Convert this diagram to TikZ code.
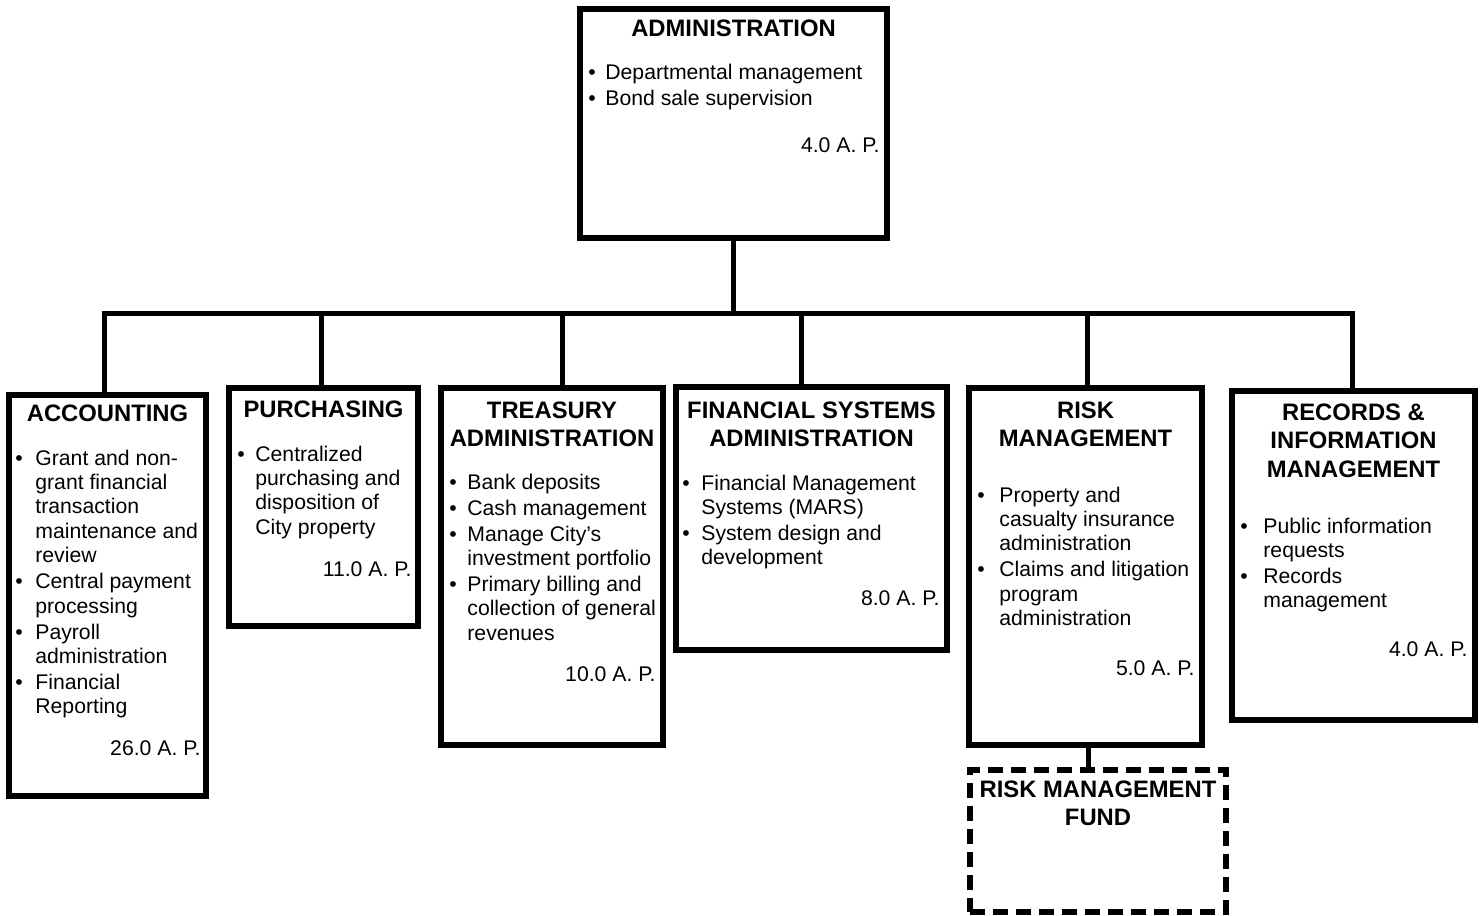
\documentclass[tikz,border=0pt]{standalone}
\usepackage{fontspec}
\setmainfont{Liberation Sans}
\newlength\bind
\newcommand\itm[1]{\ifvmode\else\par\vspace{0.8pt}\fi\noindent\llap{\makebox[\bind][l]{\textbullet}}#1}
\newcommand\blist[3]{\parbox[t]{#2}{\fontsize{10.6}{12.2}\selectfont\raggedright\setlength\bind{#1}\setlength\leftskip{#1}\setlength\parskip{0pt}#3}}
\newcommand\ttl[2]{\parbox[t]{#1}{\centering\fontsize{11.9}{14.3}\selectfont\bfseries #2}}
\tikzset{
  box/.style={draw, line width=2.9pt, rectangle, inner sep=0pt},
  dbox/.style={box, dash pattern=on 7.5pt off 4pt},
  conn/.style={line width=2.5pt, line join=miter},
  txt/.style={inner sep=0pt, anchor=base west},
  ttlnode/.style={inner sep=0pt, anchor=base},
  ap/.style={inner sep=0pt, anchor=base east, font=\fontsize{10.6}{12.2}\selectfont}
}
\begin{document}
\begin{tikzpicture}[x=0.5pt,y=-0.5pt]
\useasboundingbox (0,0) rectangle (1482,915);
% boxes
\node[box, minimum width=153.5pt, minimum height=114.5pt] (admin) at (733.5,123.5) {};
\node[box, minimum width=98.5pt, minimum height=200.5pt] (acc) at (107.5,595.5) {};
\node[box, minimum width=94.5pt, minimum height=119pt] (pur) at (323.5,507) {};
\node[box, minimum width=111pt, minimum height=178.5pt] (tre) at (552,566.5) {};
\node[box, minimum width=135.5pt, minimum height=131.5pt] (fin) at (811.5,518.5) {};
\node[box, minimum width=116.5pt, minimum height=178.5pt] (risk) at (1085.5,566.5) {};
\node[box, minimum width=121.5pt, minimum height=164.5pt] (rec) at (1353.5,555.5) {};
\node[dbox, minimum width=128pt, minimum height=71pt] (fund) at (1098,841) {};
% connectors
\coordinate (bus) at (734,313);
\coordinate (d1) at (104,313);
\coordinate (d2) at (321,313);
\coordinate (d3) at (562,313);
\coordinate (d4) at (801,313);
\coordinate (d5) at (1087,313);
\coordinate (d6) at (1352,313);
\coordinate (rfx) at (1088,0);
\draw[conn] (admin.south) -- (admin.south |- bus);
\draw[conn] (d1 |- acc.north) -- (d1) -- (d6) -- (d6 |- rec.north);
\draw[conn] (d2) -- (d2 |- pur.north);
\draw[conn] (d3) -- (d3 |- tre.north);
\draw[conn] (d4) -- (d4 |- fin.north);
\draw[conn] (d5) -- (d5 |- risk.north);
\draw[conn] (risk.south -| rfx) -- (fund.north -| rfx);
% administration
\node[ttlnode] (adminT) at (733.5,37) {\ttl{150pt}{ADMINISTRATION}};
\node[txt] (adminL) at (588,80) {\blist{8.5pt}{145pt}{\itm{Departmental management}\itm{Bond sale supervision}}};
\node[ap] (adminA) at (880,152) {4.0 A. P.};
% accounting
\node[ttlnode] (accT) at (107.5,421) {\ttl{95pt}{ACCOUNTING}};
\node[txt] (accL) at (15,465) {\blist{10pt}{95pt}{\itm{Grant and non-\\grant financial\\transaction\\maintenance and\\review}\itm{Central payment\\processing}\itm{Payroll\\administration}\itm{Financial\\Reporting}}};
\node[ap] (accA) at (201,755) {26.0 A. P.};
% purchasing
\node[ttlnode] (purT) at (323.5,417) {\ttl{92pt}{PURCHASING}};
\node[txt] (purL) at (237,461) {\blist{9pt}{92pt}{\itm{Centralized\\purchasing and\\disposition of\\City property}}};
\node[ap] (purA) at (412,576) {11.0 A. P.};
% treasury
\node[ttlnode] (treT) at (552,418) {\ttl{110pt}{TREASURY\\ADMINISTRATION}};
\node[txt] (treL) at (449,489) {\blist{9pt}{110pt}{\itm{Bank deposits}\itm{Cash management}\itm{Manage City’s\\investment portfolio}\itm{Primary billing and\\collection of general\\revenues}}};
\node[ap] (treA) at (656,681) {10.0 A. P.};
% financial systems
\node[ttlnode] (finT) at (811.5,418) {\ttl{134pt}{FINANCIAL SYSTEMS\\ADMINISTRATION}};
\node[txt] (finL) at (682,490) {\blist{9.5pt}{134pt}{\itm{Financial Management\\Systems (MARS)}\itm{System design and\\development}}};
\node[ap] (finA) at (940,605) {8.0 A. P.};
% risk management
\node[ttlnode] (riskT) at (1085.5,418) {\ttl{115pt}{RISK\\MANAGEMENT}};
\node[txt] (riskL) at (977,502) {\blist{11pt}{115pt}{\itm{Property and\\casualty insurance\\administration}\itm{Claims and litigation\\program\\administration}}};
\node[ap] (riskA) at (1195,675) {5.0 A. P.};
% records
\node[ttlnode] (recT) at (1353.5,420) {\ttl{120pt}{RECORDS \&\\INFORMATION\\MANAGEMENT}};
\node[txt] (recL) at (1240,533) {\blist{11.5pt}{120pt}{\itm{Public information\\requests}\itm{Records\\management}}};
\node[ap] (recA) at (1468,656) {4.0 A. P.};
% fund
\node[ttlnode] (fundT) at (1098,797) {\ttl{127pt}{RISK MANAGEMENT\\FUND}};
\end{tikzpicture}
\end{document}
